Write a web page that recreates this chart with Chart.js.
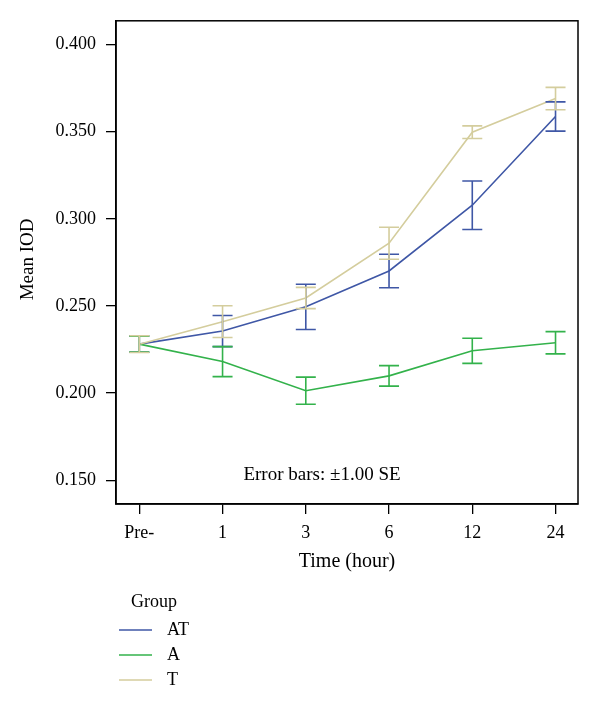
<!DOCTYPE html>
<html><head><meta charset="utf-8">
<script src="https://cdn.jsdelivr.net/npm/chart.js@4"></script>
<style>html,body{margin:0;padding:0;background:#fff;} #wrap{width:600px;height:716px;}</style>
</head><body><div id="wrap"><canvas id="c" width="600" height="716"></canvas></div>
<script>
const categories = ['Pre-', '1', '3', '6', '12', '24'];
const groups = ['AT', 'A', 'T'];
const meanAT = [0.2281, 0.2356, 0.2495, 0.2701, 0.3078, 0.3587];
const seAT   = [0.0046, 0.0089, 0.0130, 0.0096, 0.0139, 0.0084];
const meanA  = [0.2281, 0.2181, 0.2014, 0.2099, 0.2243, 0.2289];
const seA    = [0.0046, 0.0086, 0.0078, 0.0059, 0.0072, 0.0064];
const meanT  = [0.2281, 0.2410, 0.2546, 0.2860, 0.3497, 0.3690];
const seT    = [0.0048, 0.0091, 0.0061, 0.0092, 0.0036, 0.0064];
const yTicks = [0.150, 0.200, 0.250, 0.300, 0.350, 0.400];
const colors = ['#3F57A6', '#33B24B', '#D4CD9D'];

const FONT = 'Liberation Serif';
const means = [meanAT, meanA, meanT];
const ses = [seAT, seA, seT];

const overlay = {
  id: 'overlay',
  beforeDatasetsDraw(chart) {
    const ctx = chart.ctx, a = chart.chartArea;
    ctx.save();
    ctx.strokeStyle = '#000';
    ctx.lineWidth = 1.5;
    ctx.strokeRect(a.left, a.top, a.right - a.left, a.bottom - a.top);
    ctx.restore();
  },
  afterDatasetsDraw(chart) {
    const ctx = chart.ctx, xs = chart.scales.x, ys = chart.scales.y;
    ctx.save();
    ctx.lineWidth = 1.6;
    for (let g = 0; g < groups.length; g++) {
      ctx.strokeStyle = colors[g];
      for (let i = 0; i < categories.length; i++) {
        const px = xs.getPixelForValue(i);
        const top = ys.getPixelForValue(means[g][i] + ses[g][i]);
        const bot = ys.getPixelForValue(means[g][i] - ses[g][i]);
        ctx.beginPath();
        ctx.moveTo(px, top); ctx.lineTo(px, bot);
        ctx.moveTo(px - 10, top); ctx.lineTo(px + 10, top);
        ctx.moveTo(px - 10, bot); ctx.lineTo(px + 10, bot);
        ctx.stroke();
      }
    }
    ctx.restore();
  },
  afterDraw(chart) {
    const ctx = chart.ctx, a = chart.chartArea;
    ctx.save();
    ctx.fillStyle = '#000';
    ctx.textBaseline = 'middle';
    // y title
    ctx.save();
    ctx.translate(28, (a.top + a.bottom) / 2 - 3);
    ctx.rotate(-Math.PI / 2);
    ctx.textAlign = 'center';
    ctx.font = '19px "' + FONT + '"';
    ctx.fillText('Mean IOD', 0, 0);
    ctx.restore();
    // x title
    ctx.textAlign = 'center';
    ctx.font = '20px "' + FONT + '"';
    ctx.fillText('Time (hour)', (a.left + a.right) / 2, 562);
    // error note
    ctx.font = '19px "' + FONT + '"';
    ctx.fillText('Error bars: \u00B11.00 SE', 322, 475);
    // legend
    ctx.textAlign = 'left';
    ctx.font = '18px "' + FONT + '"';
    ctx.fillText('Group', 131, 602);
    const ly = [630, 655, 680];
    for (let g = 0; g < groups.length; g++) {
      ctx.strokeStyle = colors[g];
      ctx.lineWidth = 1.6;
      ctx.beginPath();
      ctx.moveTo(119, ly[g]); ctx.lineTo(152, ly[g]);
      ctx.stroke();
      ctx.fillStyle = '#000';
      ctx.fillText(groups[g], 167, ly[g]);
    }
    ctx.restore();
  }
};

const datasets = groups.map((g, k) => ({
  label: g,
  data: means[k].map((v, i) => ({ x: i, y: v })),
  borderColor: colors[k],
  backgroundColor: colors[k],
  borderWidth: 1.6,
  pointRadius: 0,
  tension: 0,
  fill: false,
  order: groups.length - k
}));

const tickFont = { family: FONT, size: 18 };

new Chart(document.getElementById('c'), {
  type: 'line',
  data: { datasets },
  plugins: [overlay],
  options: {
    responsive: false,
    animation: false,
    devicePixelRatio: 1,
    layout: { padding: { left: 0, top: 20, right: 22, bottom: 0 } },
    plugins: { legend: { display: false }, tooltip: { enabled: false } },
    scales: {
      x: {
        type: 'linear',
        min: -0.28, max: 5.27,
        afterBuildTicks: ax => { ax.ticks = categories.map((c, i) => ({ value: i })); },
        afterFit: ax => { ax.height = 212; },
        ticks: { callback: v => categories[v], color: '#000', font: tickFont, padding: 8, maxRotation: 0, autoSkip: false },
        grid: { drawOnChartArea: false, drawTicks: true, tickLength: 10, color: '#000', lineWidth: 1.3 },
        border: { display: true, color: '#000', width: 1.5 }
      },
      y: {
        type: 'linear',
        min: 0.1364, max: 0.4136,
        afterBuildTicks: ax => { ax.ticks = yTicks.map(v => ({ value: v })); },
        afterFit: ax => { ax.width = 116; },
        ticks: { callback: v => v.toFixed(3), color: '#000', font: tickFont, padding: 10, autoSkip: false },
        grid: { drawOnChartArea: false, drawTicks: true, tickLength: 10, color: '#000', lineWidth: 1.3 },
        border: { display: true, color: '#000', width: 1.5 }
      }
    }
  }
});
</script></body></html>
